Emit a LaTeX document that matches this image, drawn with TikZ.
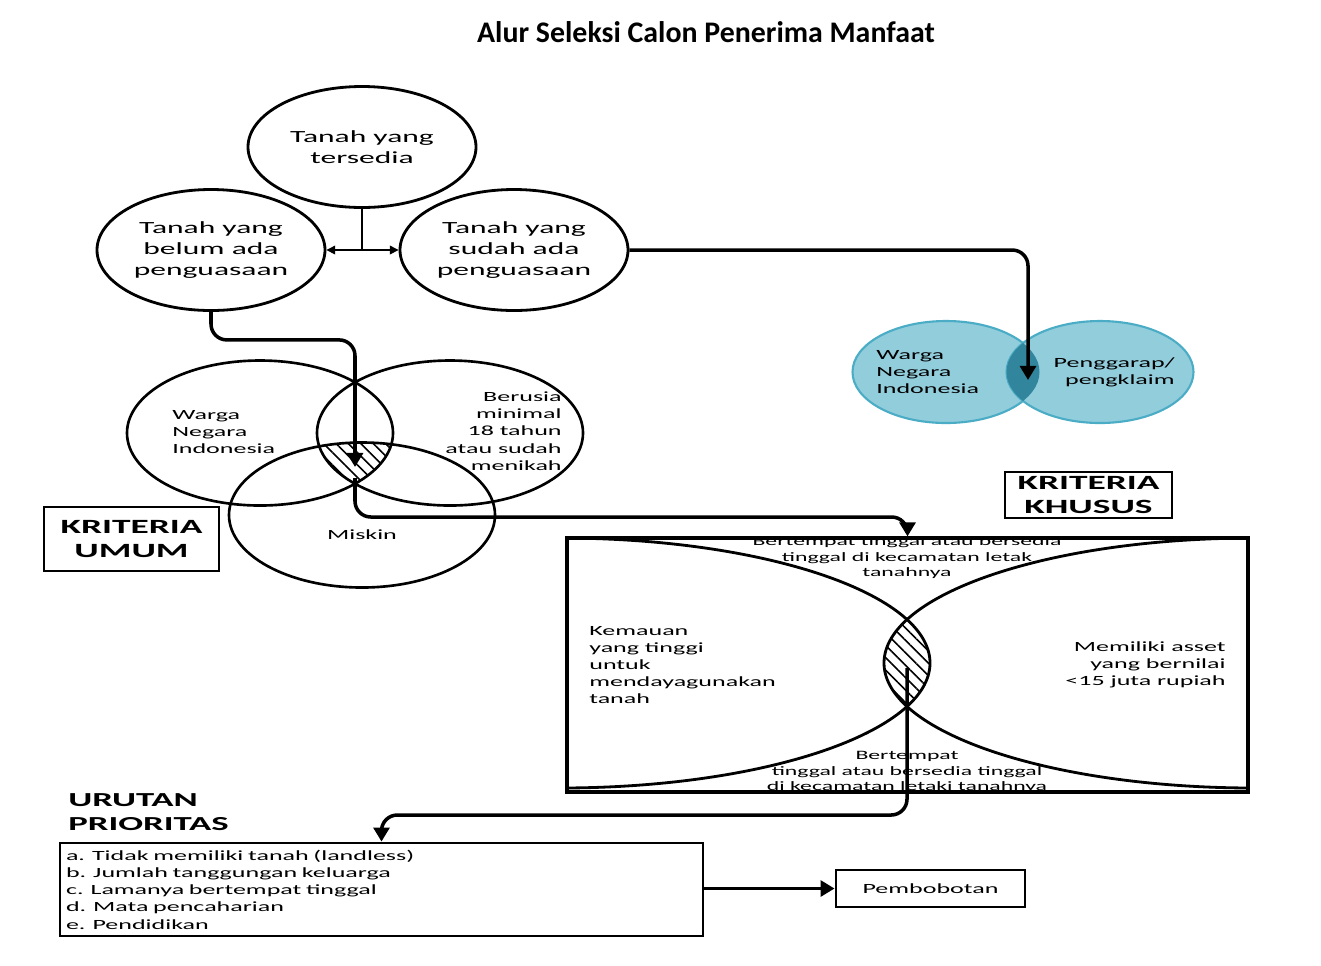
\documentclass[tikz,border=0pt]{standalone}
\usepackage{fontspec}
\setmainfont{Carlito}[FakeStretch=1.85]
\newfontfamily\judulfont{Carlito}
\usetikzlibrary{arrows.meta, positioning, shapes.geometric, patterns.meta}

\definecolor{biruisi}{HTML}{92CDDC}
\definecolor{birutepi}{HTML}{4BACC6}
\definecolor{birutua}{HTML}{31859C}

\begin{document}
\begin{tikzpicture}[
    lahan/.style={ellipse, draw, line width=1.6pt, minimum width=4.56cm, minimum height=2.42cm, inner sep=0pt, align=center, font=\fontsize{9.7}{11.9}\selectfont},
    himpunan/.style={ellipse, draw, line width=1.5pt, minimum width=5.32cm, minimum height=2.9cm, inner sep=0pt},
    himpunanbiru/.style={ellipse, draw=birutepi, fill=biruisi, line width=1.2pt, minimum width=3.74cm, minimum height=2.04cm, inner sep=0pt},
    kotak/.style={rectangle, draw, line width=1.6pt, inner sep=0pt},
    judulkotak/.style={kotak, font=\fontsize{11.5}{13.6}\selectfont\bfseries, align=center},
    isi/.style={font=\fontsize{8}{9.8}\selectfont, inner sep=0pt},
    kecil/.style={font=\fontsize{7.3}{8.8}\selectfont, align=center, inner sep=0pt},
    alur/.style={line width=2pt, rounded corners=9pt, -{Triangle[width=9pt,length=8pt]}},
    cabang/.style={line width=0.6pt, {Triangle[width=5pt,length=5pt]}-{Triangle[width=5pt,length=5pt]}},
    arsir/.style={pattern={Lines[angle=-45,distance=5pt,line width=0.9pt]}},
]
\useasboundingbox (0,0) rectangle (26.42,-19.3);

% Judul
\node[font={\judulfont\fontsize{17}{20}\selectfont\bfseries}] (judul) at (14.12,-0.64) {Alur Seleksi Calon Penerima Manfaat};

% Tanah
\node[lahan] (tersedia) at (7.24,-2.94) {Tanah yang\\tersedia};
\node[lahan] (belum) at (4.22,-5.0) {Tanah yang\\belum ada\\penguasaan};
\node[lahan] (sudah) at (10.28,-5.0) {Tanah yang\\sudah ada\\penguasaan};
\coordinate (cabangpt) at (7.24,-5.0);
\draw[line width=0.6pt] (tersedia.south) -- (cabangpt);
\draw[cabang] (belum.east) -- (sudah.west);

% Kriteria umum
\begin{scope}
  \clip (5.2,-8.66) ellipse [x radius=2.66cm, y radius=1.45cm];
  \clip (9.0,-8.66) ellipse [x radius=2.66cm, y radius=1.45cm];
  \fill[arsir] (7.24,-10.3) ellipse [x radius=2.66cm, y radius=1.45cm];
\end{scope}
\node[himpunan] (wni) at (5.2,-8.66) {};
\node[himpunan] (usia) at (9.0,-8.66) {};
\node[himpunan] (miskin) at (7.24,-10.3) {};
\node[isi, align=left, anchor=west] (wnitext) at (3.44,-8.64) {Warga\\Negara\\Indonesia};
\node[isi, align=right, anchor=east] (usiatext) at (11.24,-8.62) {Berusia\\minimal\\18 tahun\\atau sudah\\menikah};
\node[isi] (miskintext) at (7.24,-10.7) {Miskin};
\coordinate (umumin) at (7.1,-9.34);
\coordinate (umumout) at (7.1,-9.56);
\node[judulkotak, minimum width=3.5cm, minimum height=1.28cm] (umum) at (2.63,-10.78) {KRITERIA\\UMUM};

% Kriteria khusus (biru)
\node[himpunanbiru] (wnibiru) at (18.92,-7.44) {};
\node[himpunanbiru] (garap) at (22.0,-7.44) {};
\begin{scope}
  \clip (18.92,-7.44) ellipse [x radius=1.87cm, y radius=1.02cm];
  \fill[birutua] (22.0,-7.44) ellipse [x radius=1.87cm, y radius=1.02cm];
\end{scope}
\node[isi, align=left, anchor=west] (wnibirutext) at (17.52,-7.44) {Warga\\Negara\\Indonesia};
\node[isi, align=right, anchor=east] (garaptext) at (23.5,-7.44) {Penggarap/\\pengklaim};
\coordinate (khususin) at (20.56,-7.6);
\node[judulkotak, minimum width=3.34cm, minimum height=0.92cm] (khusus) at (21.77,-9.9) {KRITERIA\\KHUSUS};

% Kotak kriteria khusus
\node[kotak, line width=1.8pt, minimum width=13.62cm, minimum height=5.08cm] (syarat) at (18.15,-13.3) {};
\begin{scope}
  \clip (syarat.south west) rectangle (syarat.north east);
  \begin{scope}
    \clip (11.2,-13.26) ellipse [x radius=7.4cm, y radius=2.5cm];
    \fill[arsir] (25.08,-13.26) ellipse [x radius=7.4cm, y radius=2.5cm];
  \end{scope}
  \draw[line width=1.6pt] (11.2,-13.26) ellipse [x radius=7.4cm, y radius=2.5cm];
  \draw[line width=1.6pt] (25.08,-13.26) ellipse [x radius=7.4cm, y radius=2.5cm];
\end{scope}
\node[kecil] (atas) at (18.14,-11.16) {Bertempat tinggal atau bersedia\\tinggal di kecamatan letak\\tanahnya};
\node[isi, align=left, anchor=west] (kemauan) at (11.78,-13.3) {Kemauan\\yang tinggi\\untuk\\mendayagunakan\\tanah};
\node[isi, align=right, anchor=east] (aset) at (24.52,-13.3) {Memiliki asset\\yang bernilai\\<15 juta rupiah};
\node[kecil] (bawah) at (18.14,-15.44) {Bertempat\\tinggal atau bersedia tinggal\\di kecamatan letaki tanahnya};
\coordinate (lensa) at (18.14,-13.36);

% Urutan prioritas
\node[font=\fontsize{11.3}{13.6}\selectfont\bfseries, align=left, anchor=west, inner sep=0pt] (urutan) at (1.36,-16.24) {URUTAN\\PRIORITAS};
\node[kotak, isi, minimum width=12.86cm, minimum height=1.86cm, text width=12.62cm, inner xsep=0.12cm, align=left] (daftar) at (7.63,-17.79) {a. Tidak memiliki tanah (landless)\\b. Jumlah tanggungan keluarga\\c. Lamanya bertempat tinggal\\d. Mata pencaharian\\e. Pendidikan};
\node[kotak, isi, minimum width=3.78cm, minimum height=0.74cm] (bobot) at (18.61,-17.77) {Pembobotan};

% Alur
\draw[alur] (belum.south) -- ++(0,-0.56) -| (umumin);
\draw[alur] (umumout) -- ++(0,-0.78) -| (syarat.north);
\draw[alur] (sudah.east) -| (khususin);
\draw[alur] (lensa) -- ++(0,-2.94) -| (daftar.north);
\draw[alur, rounded corners=0pt] (bobot.west -| daftar.east) -- (bobot.west);

\end{tikzpicture}
\end{document}
